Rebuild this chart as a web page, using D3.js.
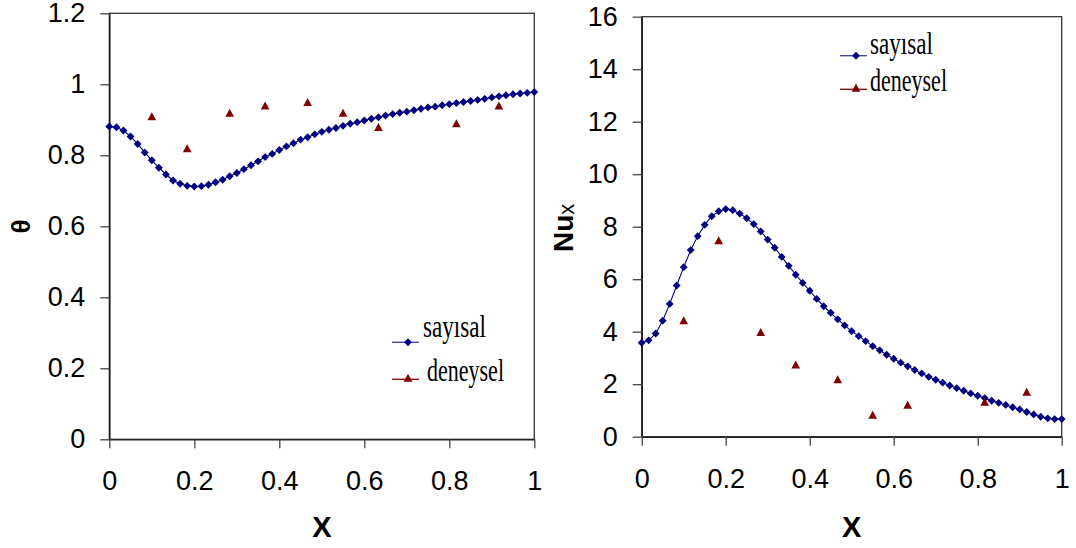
<!DOCTYPE html>
<html><head><meta charset="utf-8">
<script src="https://cdn.jsdelivr.net/npm/d3@7/dist/d3.min.js"></script>
<style>body{margin:0;background:#fff}svg{display:block}</style>
</head><body>
<svg id="c" width="1076" height="548"></svg>
<script>
// ---------- data ----------
const xNum = [0,0.0167,0.0333,0.05,0.0667,0.0833,0.1,0.1167,0.1333,0.15,0.1667,0.1833,0.2,0.2167,0.2333,0.25,0.2667,0.2833,0.3,0.3167,0.3333,0.35,0.3667,0.3833,0.4,0.4167,0.4333,0.45,0.4667,0.4833,0.5,0.5167,0.5333,0.55,0.5667,0.5833,0.6,0.6167,0.6333,0.65,0.6667,0.6833,0.7,0.7167,0.7333,0.75,0.7667,0.7833,0.8,0.8167,0.8333,0.85,0.8667,0.8833,0.9,0.9167,0.9333,0.95,0.9667,0.9833,1];
const thetaNum = [0.881,0.879,0.870,0.853,0.832,0.808,0.786,0.765,0.746,0.729,0.720,0.714,0.712,0.713,0.717,0.724,0.731,0.741,0.750,0.761,0.772,0.783,0.795,0.804,0.815,0.825,0.834,0.844,0.851,0.859,0.866,0.872,0.877,0.883,0.889,0.893,0.898,0.903,0.907,0.912,0.916,0.920,0.923,0.927,0.931,0.935,0.937,0.941,0.944,0.947,0.950,0.953,0.956,0.959,0.963,0.966,0.969,0.972,0.974,0.976,0.978];
const nuNum = [3.58,3.67,3.93,4.42,5.06,5.76,6.46,7.11,7.64,8.07,8.40,8.59,8.67,8.63,8.50,8.32,8.10,7.82,7.51,7.20,6.85,6.51,6.17,5.86,5.56,5.25,4.97,4.72,4.47,4.24,4.02,3.83,3.64,3.45,3.29,3.12,2.97,2.82,2.68,2.54,2.41,2.28,2.17,2.06,1.95,1.85,1.75,1.65,1.56,1.47,1.37,1.29,1.21,1.12,1.04,0.94,0.85,0.76,0.70,0.67,0.67];
const xExp = [0.1,0.1833,0.2833,0.3667,0.4667,0.55,0.6333,0.8167,0.9167];
const thetaExp = [0.91,0.82,0.92,0.94,0.95,0.92,0.88,0.89,0.94];
const nuExp = [4.44,7.48,3.99,2.75,2.19,0.84,1.22,1.33,1.71];
const seriesNames = ["sayısal","deneysel"];
const xTicks = [0,0.2,0.4,0.6,0.8,1];
const xTickLabels = ["0","0.2","0.4","0.6","0.8","1"];
const thetaTicks = [0,0.2,0.4,0.6,0.8,1,1.2];
const thetaTickLabels = ["0","0.2","0.4","0.6","0.8","1","1.2"];
const nuTicks = [0,2,4,6,8,10,12,14,16];
const nuTickLabels = ["0","2","4","6","8","10","12","14","16"];

// ---------- styles ----------
const NAVY = "#000080", RED = "#800000";
const diamond = {draw(ctx, size){ const r = Math.sqrt(size)/2; ctx.moveTo(0,-r); ctx.lineTo(r,0); ctx.lineTo(0,r); ctx.lineTo(-r,0); ctx.closePath(); }};
const tri = {draw(ctx, size){ const w = Math.sqrt(size)/2; ctx.moveTo(0,-w*0.92); ctx.lineTo(w,w*0.92); ctx.lineTo(-w,w*0.92); ctx.closePath(); }};
const diamondPath = d3.symbol(diamond, 62)();
const triPath = d3.symbol(tri, 76)();

const svg = d3.select("#c");

function panel(cfg){
  const x = d3.scaleLinear().domain([0,1]).range(cfg.xr);
  const y = d3.scaleLinear().domain(cfg.yd).range(cfg.yr);
  const g = svg.append("g");

  // frame
  g.append("rect").attr("x", cfg.xr[0]).attr("y", cfg.yr[1])
    .attr("width", cfg.xr[1]-cfg.xr[0]).attr("height", cfg.yr[0]-cfg.yr[1])
    .attr("fill","none").attr("stroke","#333").attr("stroke-width",1.3);

  const ya = g.append("g").attr("transform",`translate(${cfg.xr[0]},0)`)
    .call(d3.axisLeft(y).tickValues(cfg.yTicks).tickFormat((d,i)=>cfg.yLabels[i]).tickSize(9).tickSizeOuter(0).tickPadding(15));
  const xa = g.append("g").attr("transform",`translate(0,${cfg.yr[0]})`)
    .call(d3.axisBottom(x).tickValues(xTicks).tickFormat((d,i)=>xTickLabels[i]).tickSize(9).tickSizeOuter(0).tickPadding(23));
  [ya,xa].forEach(a=>{
    a.selectAll("path.domain").attr("stroke","#222").attr("stroke-width",1.6);
    a.selectAll(".tick line").attr("stroke","#444").attr("stroke-width",1.3);
    a.selectAll("text").attr("font-family","'Liberation Sans', Arial, sans-serif").attr("font-size",27).attr("fill","#000");
  });

  // numeric series: line + diamonds
  const pts = xNum.map((v,i)=>[v, cfg.num[i]]);
  g.append("path").datum(pts).attr("fill","none").attr("stroke",NAVY).attr("stroke-width",1.1)
    .attr("d", d3.line().x(d=>x(d[0])).y(d=>y(d[1])));
  g.append("g").selectAll("path").data(pts).join("path")
    .attr("d", diamondPath).attr("fill",NAVY)
    .attr("transform", d=>`translate(${x(d[0])},${y(d[1])})`);

  // experimental triangles
  g.append("g").selectAll("path").data(xExp.map((v,i)=>[v,cfg.exp[i]])).join("path")
    .attr("d", triPath).attr("fill",RED)
    .attr("transform", d=>`translate(${x(d[0])},${y(d[1])})`);

  // x title
  g.append("text").attr("x",(cfg.xr[0]+cfg.xr[1])/2).attr("y",536.5).attr("text-anchor","middle")
    .attr("font-family","'Liberation Sans', Arial, sans-serif").attr("font-weight","bold").attr("font-size",29).text("X");

  // legend
  const L = cfg.leg;
  const items = [
    {name: seriesNames[0], color:"#3a3aa0", mk: diamondPath, fill:NAVY, ly:L.y1, ty:L.t1, tx:L.tx1, tl:63},
    {name: seriesNames[1], color:RED, mk: triPath, fill:RED, ly:L.y2, ty:L.t2, tx:L.tx2, tl:77}
  ];
  items.forEach(it=>{
    g.append("line").attr("x1",L.x0).attr("x2",L.x0+27).attr("y1",it.ly).attr("y2",it.ly)
      .attr("stroke",it.color).attr("stroke-width",1.3);
    g.append("path").attr("d",it.mk).attr("fill",it.fill).attr("transform",`translate(${L.x0+16},${it.ly-(it.mk===triPath?1.5:0)})`);
    g.append("text").attr("x",it.tx).attr("y",it.ty).attr("font-family","'Liberation Serif','Times New Roman',serif")
      .attr("font-size",31).attr("textLength",it.tl).attr("lengthAdjust","spacingAndGlyphs").attr("fill","#000").text(it.name);
  });
  return g;
}

panel({xr:[109.3,534.3], yd:[0,1.2], yr:[439.3,13.3], yTicks:thetaTicks, yLabels:thetaTickLabels,
  num:thetaNum, exp:thetaExp,
  leg:{x0:392, y1:342.3, t1:337.3, tx1:423, y2:379.3, t2:381, tx2:427}});
panel({xr:[641.7,1061.7], yd:[0,16], yr:[436.7,16.7], yTicks:nuTicks, yLabels:nuTickLabels,
  num:nuNum, exp:nuExp,
  leg:{x0:840, y1:55.7, t1:53.5, tx1:870, y2:89.3, t2:91, tx2:870}});

// y titles
svg.append("text").attr("transform","translate(29.5,226.5) rotate(-90)").attr("text-anchor","middle")
  .attr("font-family","'Liberation Sans', Arial, sans-serif").attr("font-weight","bold").attr("font-size",26).text("θ");
const nu = svg.append("text").attr("transform","translate(572.5,252) rotate(-90)")
  .attr("font-family","'Liberation Sans', Arial, sans-serif").attr("font-size",28);
nu.append("tspan").attr("font-weight","bold").text("Nu");
nu.append("tspan").attr("font-size",22).attr("dy",1.5).text("x");
</script>
</body></html>
